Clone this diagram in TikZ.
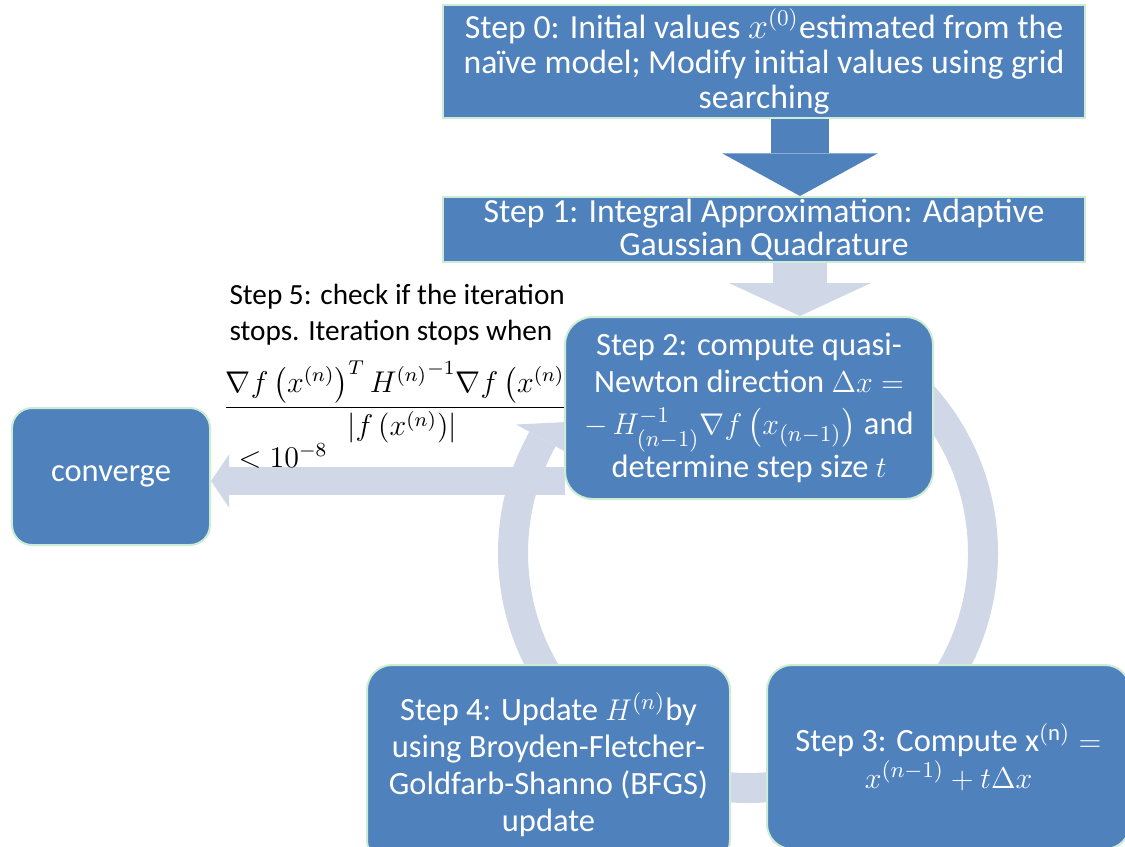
\documentclass[tikz,border=0pt]{standalone}
\usepackage{amsmath,amssymb}
\usepackage{fontspec}
\setmainfont{Carlito}
\usetikzlibrary{arrows.meta}

\definecolor{boxblue}{RGB}{79,129,189}
\definecolor{boxedge}{RGB}{205,236,212}
\definecolor{pale}{RGB}{208,216,232}

\pgfdeclarelayer{bg}
\pgfsetlayers{bg,main}

\tikzset{
  stepbox/.style={draw=boxedge, line width=0.8pt, fill=boxblue, text=white,
    align=center, inner sep=0pt, font=\fontsize{13}{14.8}\selectfont},
  roundbox/.style={stepbox, rounded corners=10pt},
  bigarrow/.style={line width=#1, shorten <=-0.5pt},
}

\begin{document}
\begin{tikzpicture}[x=0.4pt,y=-0.4pt]
    \useasboundingbox (0,0) rectangle (1125,846);
    \clip (0,0) rectangle (1125,846);

    %stopping rule
    \node[anchor=north west, align=left, inner sep=0pt, font=\fontsize{11.7}{14.2}\selectfont] (s5) at (229,284)
        {Step 5: check if the iteration\\stops. Iteration stops when};
    \node[font=\fontsize{12}{14}\selectfont] (crit) at (402,402)
        {$\displaystyle\frac{\nabla f\left(x^{(n)}\right)^{T}{H^{(n)}}^{-1}\nabla f\left(x^{(n)}\right)}{\left|f\left(x^{(n)}\right)\right|}$};
    \node[anchor=west, inner sep=0pt, font=\fontsize{12}{14}\selectfont] (tol) at (238,456) {$<10^{-8}$};

    %boxes
    \node[stepbox, minimum width=256.8pt, minimum height=45.2pt, font=\fontsize{13.5}{14}\selectfont] (s0) at (764,61.5)
        {Step 0: Initial values $x^{(0)}$estimated from the\\naïve model; Modify initial values using grid\\searching};
    \node[stepbox, minimum width=256.8pt, minimum height=26pt, font=\fontsize{13.5}{13}\selectfont] (s1) at (764,229.5)
        {Step 1: Integral Approximation: Adaptive\\Gaussian Quadrature};
    \node[roundbox, rounded corners=11pt, minimum width=147.2pt, minimum height=72.8pt, font=\fontsize{13}{14.8}\selectfont] (s2) at (749,408)
        {Step 2: compute quasi-\\Newton direction $\Delta x=$\\[2pt]$-\,H^{-1}_{(n-1)}\nabla f\left(x_{(n-1)}\right)$ and\\determine step size $t$};
    \node[roundbox, rounded corners=8pt, minimum width=79.2pt, minimum height=54.8pt] (conv) at (111,476.5) {converge};
    \node[roundbox, minimum width=145.2pt, minimum height=80pt] (s4) at (548.5,765)
        {Step 4: Update $H^{(n)}$by\\using Broyden-Fletcher-\\Goldfarb-Shanno (BFGS)\\update};
    \node[roundbox, minimum width=145.2pt, minimum height=73.6pt] (s3) at (948.5,757)
        {Step 3: Compute $\mathrm{x}^{(\mathrm{n})}=$\\$x^{(n-1)}+t\Delta x$};

    %arrows
    \coordinate (ax) at (800,0);
    \coordinate (ay) at (0,481);
    \coordinate (ringc) at (748,553);
    \path (ringc) ++(209:265) coordinate (hwo)
          (ringc) ++(209:205) coordinate (hwi);
    \coordinate (htip) at (586,421);

    \begin{pgfonlayer}{bg}
    \fill[white] (0,0) rectangle (1125,846);
    \draw[pale, line width=12pt] (ringc) ++(-50:235) arc[start angle=-50, end angle=209, radius=235];
    \fill[pale] (hwo) -- (htip) -- (hwi) -- cycle;
    \draw[boxblue, bigarrow=23pt, -{Triangle[width=62pt, length=17pt, line width=0pt]}] (s0.south -| ax) -- (s1.north -| ax);
    \draw[pale, bigarrow=21.6pt, -{Triangle[width=56.8pt, length=13.2pt, line width=0pt]}] (s1.south -| ax) -- (s2.north -| ax);
    \draw[pale, bigarrow=11.2pt, -{Triangle[width=21.2pt, length=7.2pt, line width=0pt]}] (s2.west |- ay) -- (conv.east |- ay);
    \end{pgfonlayer}
\end{tikzpicture}
\end{document}
